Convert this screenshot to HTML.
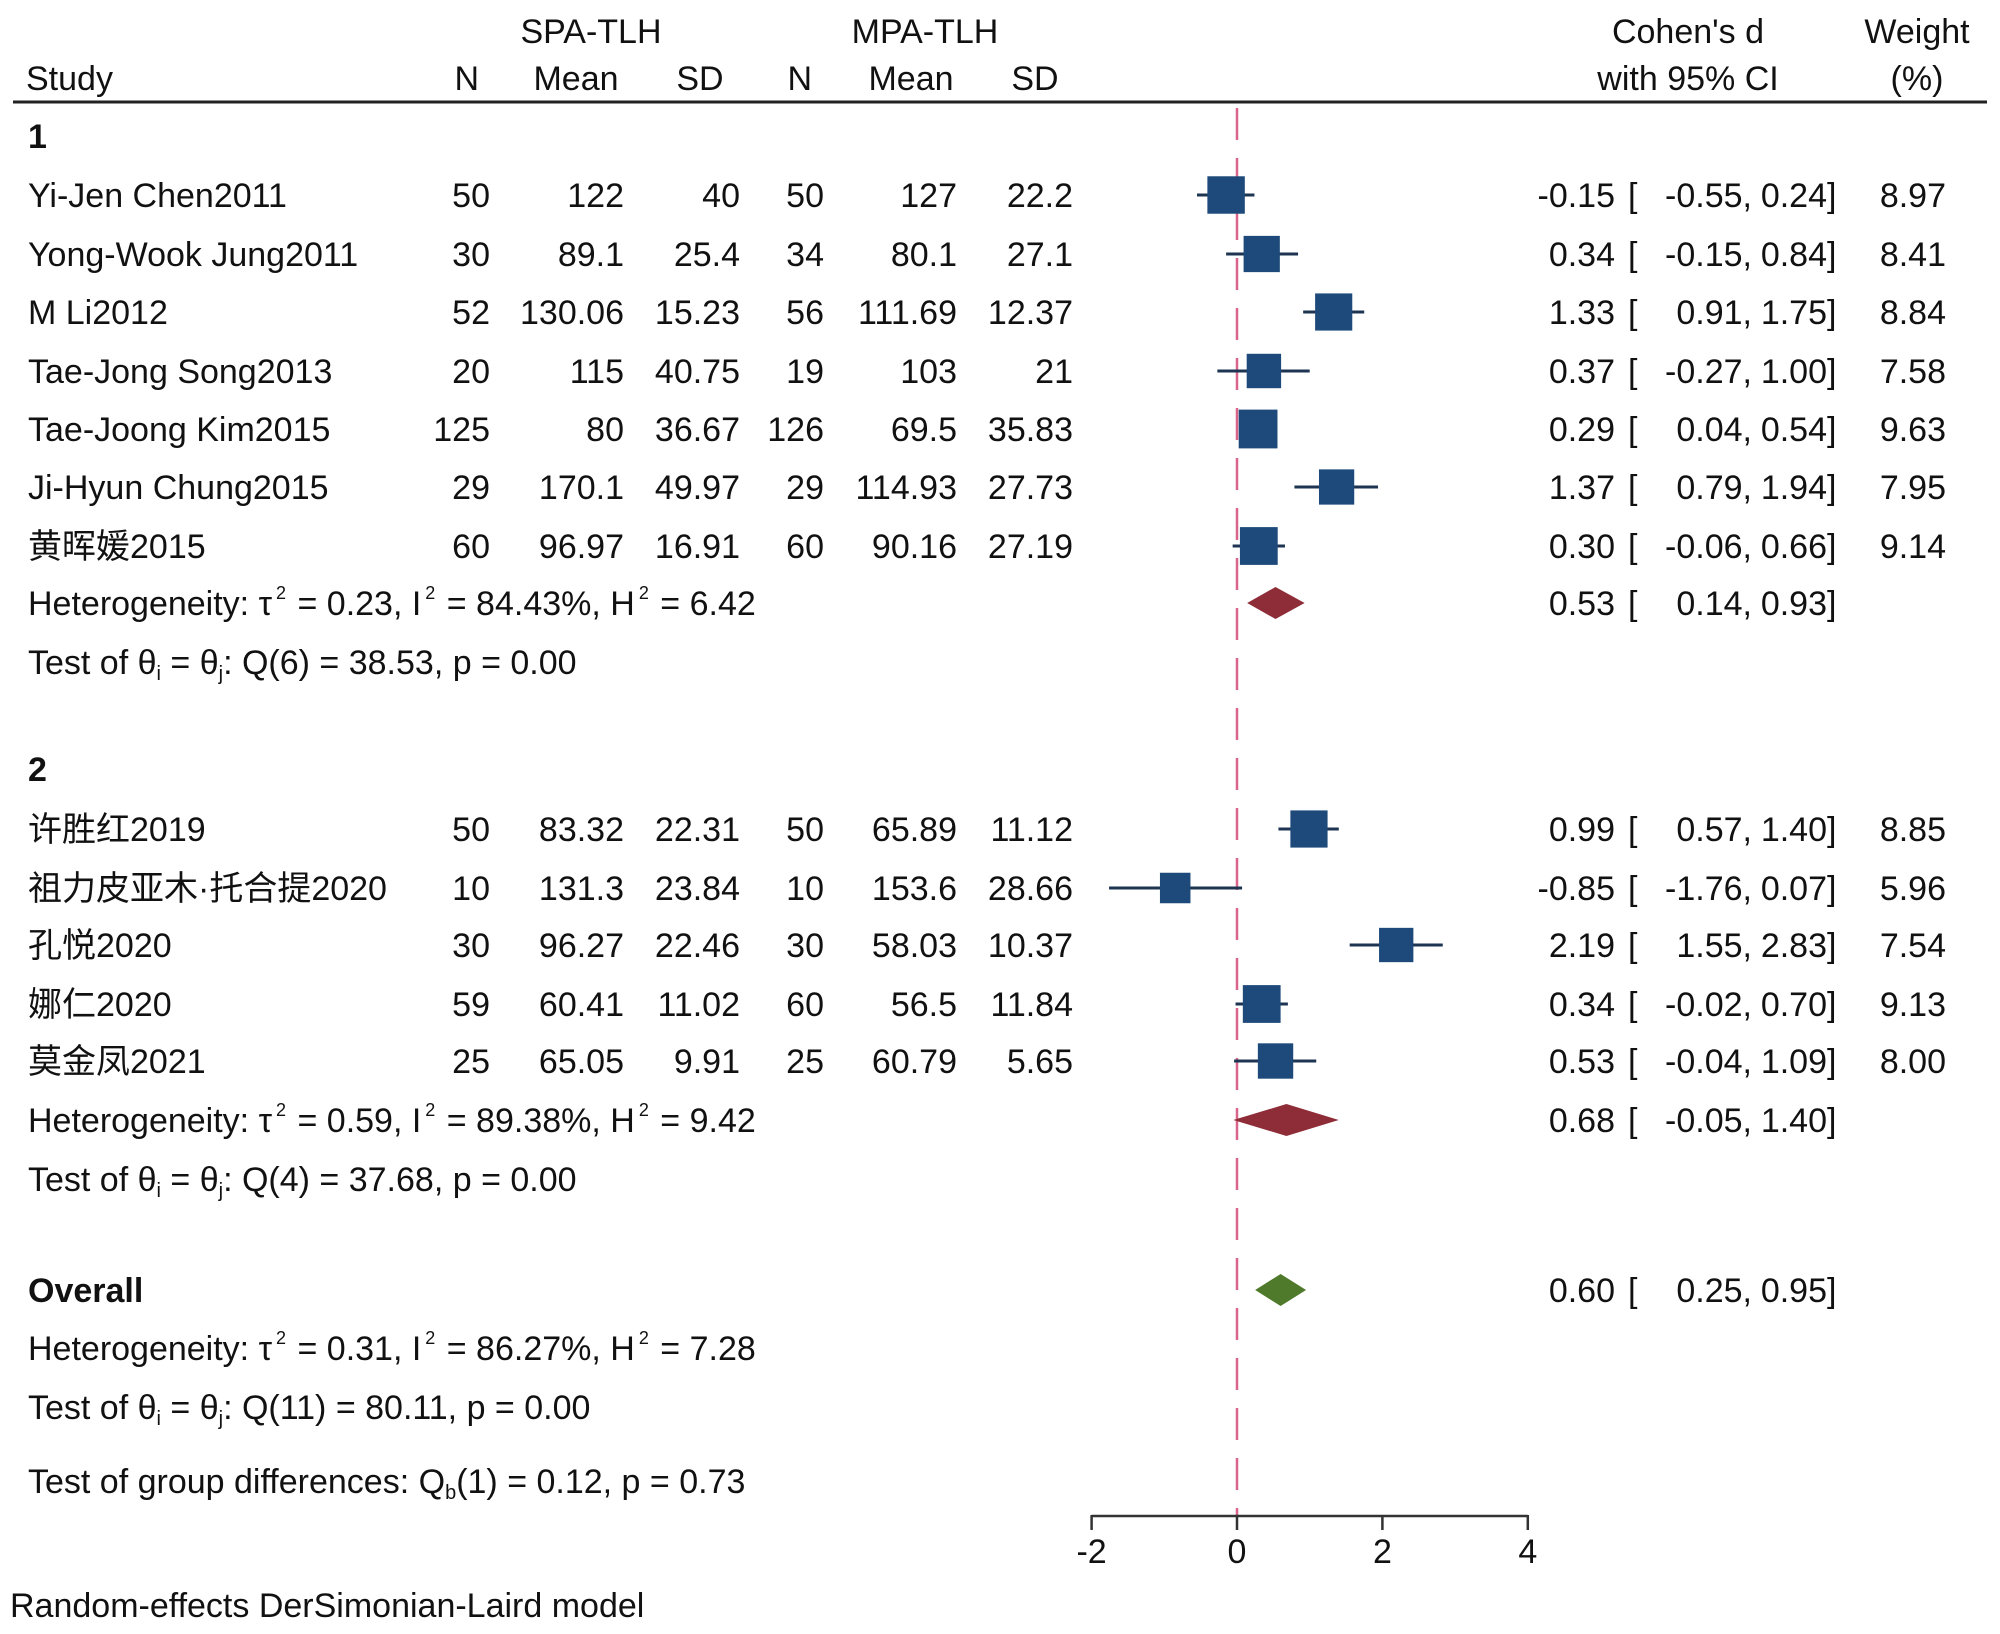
<!DOCTYPE html>
<html><head><meta charset="utf-8"><style>
html,body{margin:0;padding:0;background:#fff;}
svg{display:block;font-family:"Liberation Sans","Noto Sans CJK SC",sans-serif;}
text{fill:#111;font-size:34px;}
</style></head><body>
<svg id="chart" width="2000" height="1634" viewBox="0 0 2000 1634" xmlns="http://www.w3.org/2000/svg">
<g id="hdr">
<text x="591" y="43" text-anchor="middle">SPA-TLH</text>
<text x="925" y="43" text-anchor="middle">MPA-TLH</text>
<text x="1688" y="43" text-anchor="middle">Cohen's d</text>
<text x="1917" y="43" text-anchor="middle">Weight</text>
<text x="26" y="90">Study</text>
<text x="479" y="90" text-anchor="end">N</text>
<text x="576" y="90" text-anchor="middle">Mean</text>
<text x="700" y="90" text-anchor="middle">SD</text>
<text x="812" y="90" text-anchor="end">N</text>
<text x="911" y="90" text-anchor="middle">Mean</text>
<text x="1035" y="90" text-anchor="middle">SD</text>
<text x="1688" y="90" text-anchor="middle">with 95% CI</text>
<text x="1917" y="90" text-anchor="middle">(%)</text>
<line x1="13" y1="102" x2="1987" y2="102" stroke="#222" stroke-width="3"/>
</g>
<line x1="1237" y1="108" x2="1237" y2="1516" stroke="#d9668a" stroke-width="2.5" stroke-dasharray="32,18"/>
<g id="rows"></g>
<g id="axis"></g>
<text x="10" y="1617">Random-effects DerSimonian-Laird model</text>
</svg>
<script>
const studies=["Yi-Jen Chen2011","Yong-Wook Jung2011","M Li2012","Tae-Jong Song2013","Tae-Joong Kim2015","Ji-Hyun Chung2015","黄晖媛2015","许胜红2019","祖力皮亚木·托合提2020","孔悦2020","娜仁2020","莫金凤2021"];
const groupOf=[1,1,1,1,1,1,1,2,2,2,2,2];
const n1=["50","30","52","20","125","29","60","50","10","30","59","25"];
const mean1=["122","89.1","130.06","115","80","170.1","96.97","83.32","131.3","96.27","60.41","65.05"];
const sd1=["40","25.4","15.23","40.75","36.67","49.97","16.91","22.31","23.84","22.46","11.02","9.91"];
const n2=["50","34","56","19","126","29","60","50","10","30","60","25"];
const mean2=["127","80.1","111.69","103","69.5","114.93","90.16","65.89","153.6","58.03","56.5","60.79"];
const sd2=["22.2","27.1","12.37","21","35.83","27.73","27.19","11.12","28.66","10.37","11.84","5.65"];
const est=[-0.15,0.34,1.33,0.37,0.29,1.37,0.30,0.99,-0.85,2.19,0.34,0.53];
const lo=[-0.55,-0.15,0.91,-0.27,0.04,0.79,-0.06,0.57,-1.76,1.55,-0.02,-0.04];
const hi=[0.24,0.84,1.75,1.00,0.54,1.94,0.66,1.40,0.07,2.83,0.70,1.09];
const weight=[8.97,8.41,8.84,7.58,9.63,7.95,9.14,8.85,5.96,7.54,9.13,8.00];
const summaryEst=[0.53,0.68,0.60];
const summaryLo=[0.14,-0.05,0.25];
const summaryHi=[0.93,1.40,0.95];
const tau2=["0.23","0.59","0.31"];
const i2=["84.43%","89.38%","86.27%"];
const h2=["6.42","9.42","7.28"];
const qdf=["6","4","11"];
const qval=["38.53","37.68","80.11"];
const axisTicks=[-2,0,2,4];

const NS="http://www.w3.org/2000/svg";
const xs=v=>1237+v*72.7;
const rowsG=document.getElementById('rows');
function mk(tag,at,parent){const e=document.createElementNS(NS,tag);for(const k in at)e.setAttribute(k,at[k]);(parent||rowsG).appendChild(e);return e;}
function txt(x,y,s,anchor,name,bold){const t=mk('text',{x:x,y:y,'text-anchor':anchor||'start'});t.textContent=s;if(bold)t.setAttribute('font-weight','bold');


return t;}
const fmt=v=>v.toFixed(2);
function ciText(y,e,l,h,name){
  txt(1615,y,fmt(e),'end',name+'-est');
  txt(1628,y,'[','start',name+'-lbracket');
  txt(1752,y,fmt(l)+',','end',name+'-lo');
  txt(1827,y,fmt(h),'end',name+'-hi');
  txt(1827,y,']','start',name+'-rbracket');
}
function hetRow(y,k){
  const t=mk('text',{x:28,y:y});
  
  
  t.setAttribute('xml:space','preserve');
  t.innerHTML='Heterogeneity: τ<tspan dx="4" dy="-16" font-size="18">2</tspan><tspan dx="2" dy="16"> = '+tau2[k]+', I</tspan><tspan dx="4" dy="-16" font-size="18">2</tspan><tspan dx="2" dy="16"> = '+i2[k]+', H</tspan><tspan dx="4" dy="-16" font-size="18">2</tspan><tspan dx="2" dy="16"> = '+h2[k]+'</tspan>';
}
function testRow(y,k){
  const t=mk('text',{x:28,y:y});
  
  
  t.innerHTML='Test of θ<tspan dy="6" font-size="20">i</tspan><tspan dy="-6"> = θ</tspan><tspan dy="6" font-size="20">j</tspan><tspan dy="-6">: Q('+qdf[k]+') = '+qval[k]+', p = 0.00</tspan>';
}
function diamond(y,k,color,name){
  const p=mk('polygon',{points:[xs(summaryLo[k])+','+y,xs(summaryEst[k])+','+(y-16),xs(summaryHi[k])+','+y,xs(summaryEst[k])+','+(y+16)].join(' '),fill:color});
  
  
}
const rowY=[195,254,312,371,429,487,546,829,888,945,1004,1061];
const off=12;
txt(28,148,'1','start','group-1-label',true);
txt(28,781,'2','start','group-2-label',true);
studies.forEach((s,i)=>{
  const y=rowY[i];const b=y+off;
  txt(28,b,s,'start','study-name-'+i);
  txt(490,b,n1[i],'end','n1-'+i);
  txt(624,b,mean1[i],'end','mean1-'+i);
  txt(740,b,sd1[i],'end','sd1-'+i);
  txt(824,b,n2[i],'end','n2-'+i);
  txt(957,b,mean2[i],'end','mean2-'+i);
  txt(1073,b,sd2[i],'end','sd2-'+i);
  ciText(b,est[i],lo[i],hi[i],'ci-'+i);
  txt(1946,b,weight[i].toFixed(2),'end','weight-'+i);
  const l=mk('line',{x1:xs(lo[i]),x2:xs(hi[i]),y1:y,y2:y,stroke:'#1d3552','stroke-width':3});
  
  
  const w=12.5*Math.sqrt(weight[i]);
  const r=mk('rect',{x:xs(est[i])-w/2,y:y-w/2,width:w,height:w,fill:'#1d4a7a'});
  
  
});
diamond(603,0,'#8e2c37','group-1-diamond');ciText(615,summaryEst[0],summaryLo[0],summaryHi[0],'group-1-ci');
hetRow(615,0);testRow(674,0);
diamond(1120,1,'#8e2c37','group-2-diamond');ciText(1132,summaryEst[1],summaryLo[1],summaryHi[1],'group-2-ci');
hetRow(1132,1);testRow(1191,1);
txt(28,1302,'Overall','start','overall-label',true);
diamond(1290,2,'#4f7a2c','overall-diamond');ciText(1302,summaryEst[2],summaryLo[2],summaryHi[2],'overall-ci');
hetRow(1360,2);testRow(1419,2);
(function(){const t=mk('text',{x:28,y:1493});


t.innerHTML='Test of group differences: Q<tspan dy="6" font-size="20">b</tspan><tspan dy="-6">(1) = 0.12, p = 0.73</tspan>';})();
const ax=document.getElementById('axis');
const al=mk('line',{x1:xs(axisTicks[0]),x2:xs(axisTicks[axisTicks.length-1]),y1:1516,y2:1516,stroke:'#333','stroke-width':2.5},ax);


axisTicks.forEach(v=>{
  const tk=mk('line',{x1:xs(v),x2:xs(v),y1:1515,y2:1530,stroke:'#333','stroke-width':2.5},ax);
  
  
  const t=mk('text',{x:xs(v),y:1563,'text-anchor':'middle'},ax);t.textContent=v;
  
  
});
</script>
</body></html>
